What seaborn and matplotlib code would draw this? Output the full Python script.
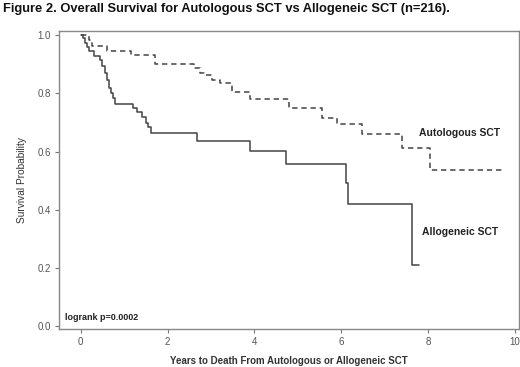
import matplotlib
matplotlib.use("Agg")
import matplotlib.pyplot as plt
import seaborn as sns
import pandas as pd

# step points (years, survival)
auto_t = [0, 0.2, 0.25, 0.6, 1.15, 1.72, 2.6, 2.75, 2.83, 3.02, 3.2, 3.48, 3.9,
          4.8, 5.55, 5.91, 6.48, 7.4, 8.05, 9.7]
auto_s = [1.0, 0.985, 0.962, 0.946, 0.931, 0.9, 0.886, 0.87, 0.862, 0.845, 0.837,
          0.805, 0.78, 0.751, 0.717, 0.694, 0.662, 0.611, 0.536, 0.536]

allo_t = [0, 0.05, 0.1, 0.15, 0.2, 0.3, 0.45, 0.5, 0.55, 0.6, 0.65, 0.7, 0.75,
          0.8, 1.2, 1.3, 1.4, 1.5, 1.55, 1.62, 2.67, 3.89, 4.72, 6.1, 6.15,
          7.63, 7.8]
allo_s = [1.0, 0.99, 0.975, 0.96, 0.945, 0.93, 0.915, 0.895, 0.87, 0.845, 0.82,
          0.80, 0.785, 0.765, 0.75, 0.735, 0.72, 0.70, 0.685, 0.664, 0.637,
          0.601, 0.557, 0.49, 0.42, 0.21, 0.21]

title = "Figure 2. Overall Survival for Autologous SCT vs Allogeneic SCT (n=216)."
xticks = [0, 2, 4, 6, 8, 10]
yticks = [0.0, 0.2, 0.4, 0.6, 0.8, 1.0]

sns.set_style("white")
plt.rcParams["font.family"] = ["Liberation Sans", "DejaVu Sans"]

auto = pd.DataFrame({"t": auto_t, "s": auto_s})
allo = pd.DataFrame({"t": allo_t, "s": allo_s})

fig = plt.figure(figsize=(5.2, 3.67), dpi=100)
ax = fig.add_axes([0.1135, 0.1035, 0.885, 0.812])

sns.lineplot(data=auto, x="t", y="s", ax=ax, drawstyle="steps-post",
             estimator=None, sort=False, color="#444444", lw=1.1,
             linestyle=(0, (3.5, 2.5)))
sns.lineplot(data=allo, x="t", y="s", ax=ax, drawstyle="steps-post",
             estimator=None, sort=False, color="#444444", lw=1.1)

ax.set_xlim(-0.5, 10.1)
ax.set_ylim(-0.011, 1.015)
ax.set_xticks(xticks)
ax.set_xticklabels([str(v) for v in xticks])
ax.set_yticks(yticks)
ax.set_yticklabels([f"{v:.1f}" for v in yticks])
ax.tick_params(axis="both", which="major", direction="out", length=3,
               width=0.8, color="#777777", labelsize=7, labelcolor="#555555",
               bottom=True, left=True, pad=3)
for sp in ax.spines.values():
    sp.set_color("#888888")
    sp.set_linewidth(1.0)

ax.set_xlabel("Years to Death From Autologous or Allogeneic SCT",
              fontsize=7, fontweight="bold", color="#333333", labelpad=6)
ax.set_ylabel("Survival Probability", fontsize=7.3, color="#333333",
              labelpad=7)

ax.text(7.8, 0.665, "Autologous SCT", fontsize=7.5, fontweight="bold",
        color="#222222", va="center")
ax.text(7.85, 0.322, "Allogeneic SCT", fontsize=7.5, fontweight="bold",
        color="#222222", va="center")
ax.text(-0.37, 0.03, "logrank p=0.0002", fontsize=6.5, fontweight="bold",
        color="#222222", va="center")

fig.text(0.006, 0.975, title, fontsize=9.3, fontweight="bold",
         color="#111111", va="center", ha="left")

fig.savefig("out.png", dpi=100)
